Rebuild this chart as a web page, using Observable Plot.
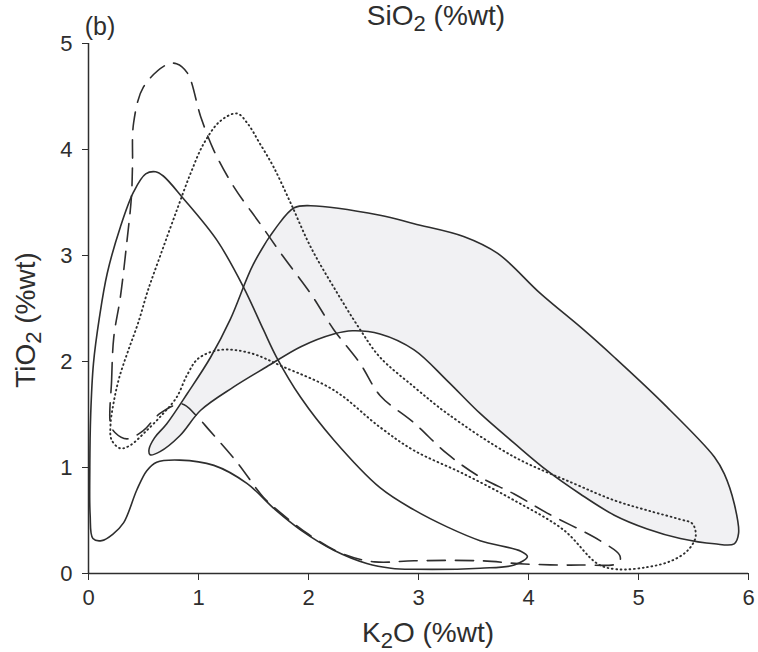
<!DOCTYPE html>
<html>
<head>
<meta charset="utf-8">
<script src="https://cdn.jsdelivr.net/npm/d3@7"></script>
<script src="https://cdn.jsdelivr.net/npm/@observablehq/plot@0.6"></script>
<style>
  body { margin: 0; background: #fff; }
  svg { display: block; }
</style>
</head>
<body>
<div id="chart"></div>
<script>
// Axis ticks
const xTicks = [0, 1, 2, 3, 4, 5, 6];
const yTicks = [0, 1, 2, 3, 4, 5];

// Compositional fields, outlines as [K2O, TiO2] vertices (closed loops)
// Solid field with the 3.8 peak that hugs the TiO2 axis
const fieldSolid = [
  [0.61, 3.79], [0.52, 3.77], [0.41, 3.60], [0.29, 3.27], [0.17, 2.83], [0.10, 2.42],
  [0.045, 1.98], [0.02, 1.50], [0.012, 1.00], [0.015, 0.55], [0.04, 0.33], [0.12, 0.31],
  [0.22, 0.37], [0.32, 0.48], [0.44, 0.79], [0.53, 0.97], [0.62, 1.05], [0.83, 1.07],
  [1.14, 1.02], [1.44, 0.85], [1.70, 0.60], [1.93, 0.41], [2.23, 0.22], [2.53, 0.095],
  [2.75, 0.05], [2.96, 0.04], [3.56, 0.05], [3.87, 0.08], [3.99, 0.16], [3.93, 0.21],
  [3.56, 0.31], [3.26, 0.44], [2.96, 0.60], [2.65, 0.81], [2.23, 1.26], [1.93, 1.66],
  [1.71, 2.04], [1.59, 2.30], [1.41, 2.70], [1.17, 3.14], [0.86, 3.54], [0.68, 3.75]
];

// Dashed field with the 4.8 peak
const fieldDashed = [
  [0.20, 1.41], [0.21, 1.82], [0.23, 2.23], [0.29, 2.61], [0.35, 3.14], [0.39, 3.55],
  [0.40, 3.85], [0.41, 4.25], [0.50, 4.59], [0.71, 4.80], [0.80, 4.81], [0.90, 4.72],
  [1.02, 4.31], [1.14, 3.99], [1.32, 3.65], [1.56, 3.30], [1.77, 2.99], [2.02, 2.64],
  [2.23, 2.30], [2.47, 1.98], [2.65, 1.68], [2.96, 1.42], [3.26, 1.13], [3.56, 0.91],
  [3.87, 0.75], [4.17, 0.57], [4.65, 0.31], [4.83, 0.17], [4.82, 0.10], [4.47, 0.08],
  [3.96, 0.09], [3.56, 0.12], [2.96, 0.12], [2.60, 0.11], [2.30, 0.19], [2.00, 0.37],
  [1.75, 0.57], [1.59, 0.72], [1.35, 1.05], [1.10, 1.35], [0.97, 1.50], [0.85, 1.60],
  [0.65, 1.51], [0.50, 1.35], [0.35, 1.27], [0.24, 1.33]
];

// Dotted field with the 4.35 peak
const fieldDotted = [
  [0.21, 1.26], [0.20, 1.40], [0.23, 1.62], [0.28, 1.85], [0.36, 2.10], [0.45, 2.36],
  [0.54, 2.67], [0.66, 3.02], [0.80, 3.42], [0.93, 3.78], [1.05, 4.06], [1.20, 4.27],
  [1.35, 4.34], [1.45, 4.24], [1.55, 4.07], [1.68, 3.84], [1.84, 3.49], [2.02, 3.08],
  [2.23, 2.70], [2.47, 2.30], [2.65, 2.04], [2.96, 1.76], [3.26, 1.51], [3.87, 1.10],
  [4.41, 0.85], [4.78, 0.69], [5.10, 0.59], [5.38, 0.51], [5.49, 0.47], [5.52, 0.35],
  [5.45, 0.22], [5.30, 0.12], [5.08, 0.06], [4.80, 0.04], [4.63, 0.09], [4.32, 0.41],
  [3.87, 0.69], [3.41, 0.94], [2.96, 1.16], [2.65, 1.38], [2.23, 1.73], [1.77, 1.95],
  [1.47, 2.08], [1.20, 2.11], [1.00, 2.03], [0.90, 1.88], [0.80, 1.66], [0.68, 1.51],
  [0.53, 1.35], [0.38, 1.21], [0.29, 1.18]
];

// Shaded field, solid outline
const fieldShaded = [
  [0.56, 1.12], [0.55, 1.17], [0.60, 1.28], [0.71, 1.41], [0.90, 1.70], [1.11, 2.04],
  [1.29, 2.40], [1.50, 2.92], [1.71, 3.27], [1.87, 3.45], [2.02, 3.47], [2.65, 3.38],
  [2.96, 3.30], [3.41, 3.18], [3.72, 3.02], [4.11, 2.64], [4.50, 2.30], [4.78, 2.04],
  [5.23, 1.60], [5.69, 1.10], [5.78, 0.94], [5.87, 0.66], [5.91, 0.38], [5.87, 0.28],
  [5.69, 0.28], [5.38, 0.33], [5.08, 0.42], [4.78, 0.55], [4.47, 0.75], [4.17, 0.97],
  [3.87, 1.23], [3.56, 1.51], [3.26, 1.82], [2.96, 2.11], [2.65, 2.26], [2.40, 2.29],
  [2.23, 2.26], [1.93, 2.14], [1.62, 1.95], [1.32, 1.76], [1.02, 1.54], [0.83, 1.30],
  [0.65, 1.15]
];

const ink = "#2e2e2e";
const font = "'Liberation Sans', Arial, Helvetica, sans-serif";
const px = d => d[0], py = d => d[1];

const chart = Plot.plot({
  width: 758,
  height: 652,
  marginLeft: 88,
  marginRight: 10,
  marginTop: 43,
  marginBottom: 79,
  x: {domain: [0, 6]},
  y: {domain: [0, 5]},
  style: {fontFamily: font, fontSize: "22px", color: ink, background: "#fff"},
  marks: [
    Plot.line(fieldShaded, {x: px, y: py, curve: "catmull-rom-closed", fill: "#f1f1f3", stroke: ink, strokeWidth: 1.6}),
    Plot.line(fieldSolid, {x: px, y: py, curve: "catmull-rom-closed", stroke: ink, strokeWidth: 1.6}),
    Plot.line(fieldDashed, {x: px, y: py, curve: "catmull-rom-closed", stroke: ink, strokeWidth: 1.6, strokeDasharray: "18,10"}),
    Plot.line(fieldDotted, {x: px, y: py, curve: "catmull-rom-closed", stroke: ink, strokeWidth: 1.9, strokeDasharray: "0.8,3.6", strokeLinecap: "round"}),
    Plot.ruleX([0], {y1: 0, y2: 5, stroke: ink, strokeWidth: 1.5}),
    Plot.ruleY([0], {x1: 0, x2: 6, stroke: ink, strokeWidth: 1.5}),
    Plot.axisX({ticks: xTicks, tickFormat: "d", tickSize: 7, tickPadding: 9, label: null, stroke: ink}),
    Plot.axisY({ticks: yTicks, tickFormat: "d", tickSize: 6, tickPadding: 10, label: null, stroke: ink})
  ]
});

document.getElementById("chart").append(chart);

// Labels with subscripts
const svg = d3.select(chart);
function chemLabel(sel, pre, sub, post, size) {
  sel.attr("font-family", font).attr("font-size", size).attr("fill", ink);
  sel.append("tspan").text(pre);
  sel.append("tspan").attr("font-size", Math.round(size * 0.8)).attr("dy", 6).text(sub);
  sel.append("tspan").attr("dy", -6).text(post);
}
chemLabel(svg.append("text").attr("x", 428).attr("y", 642).attr("text-anchor", "middle"), "K", "2", "O (%wt)", 28);
chemLabel(svg.append("text").attr("x", 436).attr("y", 25).attr("text-anchor", "middle"), "SiO", "2", " (%wt)", 28);
chemLabel(svg.append("text").attr("transform", "translate(35,320) rotate(-90)").attr("text-anchor", "middle"), "TiO", "2", " (%wt)", 28);
svg.append("text").attr("x", 100).attr("y", 35).attr("font-family", font).attr("font-size", 25).attr("fill", ink).text("(b)");
</script>
</body>
</html>
